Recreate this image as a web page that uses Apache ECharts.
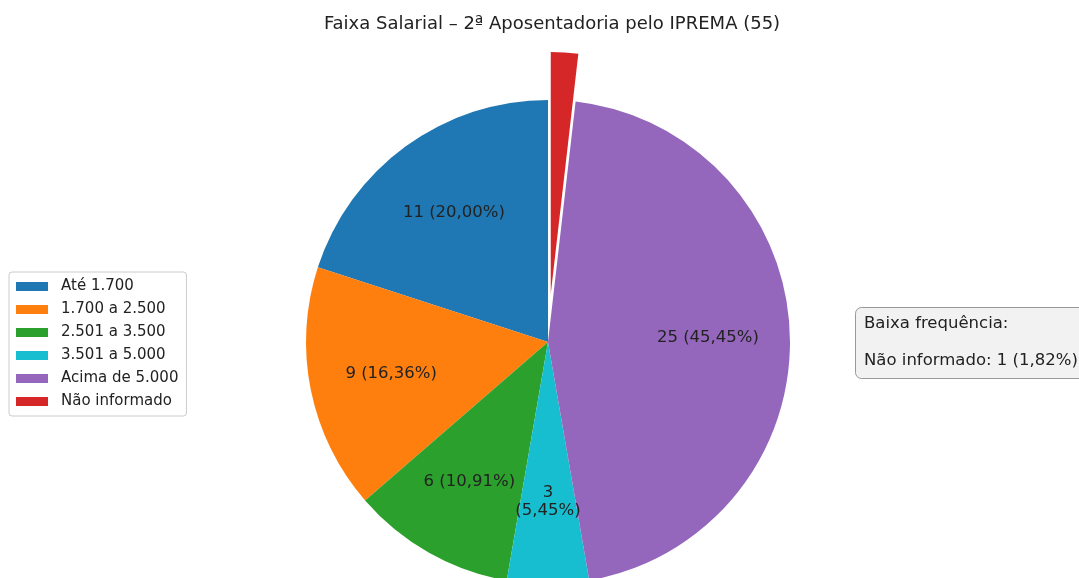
<!DOCTYPE html>
<html>
<head>
<meta charset="utf-8">
<script src="https://cdn.jsdelivr.net/npm/echarts@6/dist/echarts.min.js"></script>
<style>
  html, body { margin: 0; padding: 0; background: #fff; }
  #chart { width: 1079px; height: 578px; }
</style>
</head>
<body>
<div id="chart"></div>
<script>
// faixas salariais e contagens
const categories = ['Até 1.700', '1.700 a 2.500', '2.501 a 3.500', '3.501 a 5.000', 'Acima de 5.000', 'Não informado'];
const counts = [11, 9, 6, 3, 25, 1];
const colors = ['#1f77b4', '#ff7f0e', '#2ca02c', '#17becf', '#9467bd', '#d62728'];
const total = 55;
const lowFreq = ['Não informado'];

const font = 'DejaVu Sans';

function pct(v) {
    return (v / total * 100).toFixed(2).replace('.', ',') + '%';
}

let myChart = echarts.init(document.getElementById('chart'));

let pieData = categories.map(function (name, i) {
    return {
        name: name,
        value: counts[i],
        itemStyle: { color: colors[i] },
        selected: lowFreq.indexOf(name) >= 0
    };
});

// segunda serie so para os rotulos (a 0.65 do raio)
let labelData = categories.map(function (name, i) {
    let p = counts[i] / total * 100;
    let txt = p < 2 ? '' : (p < 8 ? counts[i] + '\n(' + pct(counts[i]) + ')' : counts[i] + ' (' + pct(counts[i]) + ')');
    return {
        name: name,
        value: counts[i],
        itemStyle: { color: 'rgba(0,0,0,0)' },
        label: { formatter: txt }
    };
});

let lowText = lowFreq.map(function (n) {
    let v = counts[categories.indexOf(n)];
    return n + ': ' + v + ' (' + pct(v).replace('%', '%)');
}).join('\n');

myChart.setOption({
    animation: false,
    backgroundColor: '#fff',
    title: {
        text: 'Faixa Salarial – 2ª Aposentadoria pelo IPREMA (' + total + ')',
        left: 547,
        textAlign: 'center',
        top: 10,
        textStyle: { fontFamily: font, fontSize: 18, fontWeight: 'normal', color: '#222' }
    },
    legend: {
        orient: 'vertical',
        left: 9,
        top: 272,
        icon: 'rect',
        itemWidth: 32,
        itemHeight: 9,
        itemGap: 6,
        padding: [6, 8, 6, 7],
        borderColor: '#ccc',
        borderWidth: 1,
        borderRadius: 3,
        data: categories.map(function (n, i) { return { name: n, itemStyle: { color: colors[i] } }; }),
        textStyle: { fontFamily: font, fontSize: 15, color: '#222', lineHeight: 17, padding: [0, 0, 0, 8] }
    },
    graphic: [
        {
            type: 'rect',
            left: 855,
            top: 307,
            shape: { width: 240, height: 71, r: 6 },
            style: { fill: '#f2f2f2', stroke: '#999', lineWidth: 1 }
        },
        {
            type: 'text',
            left: 864,
            top: 305,
            style: {
                text: 'Baixa frequência:\n' + lowText,
                font: '16.5px "DejaVu Sans"',
                fill: '#222',
                lineHeight: 37
            }
        }
    ],
    series: [
        {
            name: 'Faixa',
            type: 'pie',
            center: [548, 342],
            radius: [0, 242],
            startAngle: 90,
            clockwise: false,
            selectedMode: 'single',
            selectedOffset: 48,
            avoidLabelOverlap: false,
            label: { show: false },
            labelLine: { show: false },
            emphasis: { disabled: true },
            data: pieData
        },
        {
            name: 'rotulos',
            type: 'pie',
            center: [548, 342],
            radius: [72, 242],
            startAngle: 90,
            clockwise: false,
            silent: true,
            avoidLabelOverlap: false,
            label: {
                show: true,
                position: 'inside',
                fontFamily: font,
                fontSize: 16.5,
                color: '#222',
                lineHeight: 18
            },
            labelLine: { show: false },
            data: labelData
        }
    ]
});
</script>
</body>
</html>
